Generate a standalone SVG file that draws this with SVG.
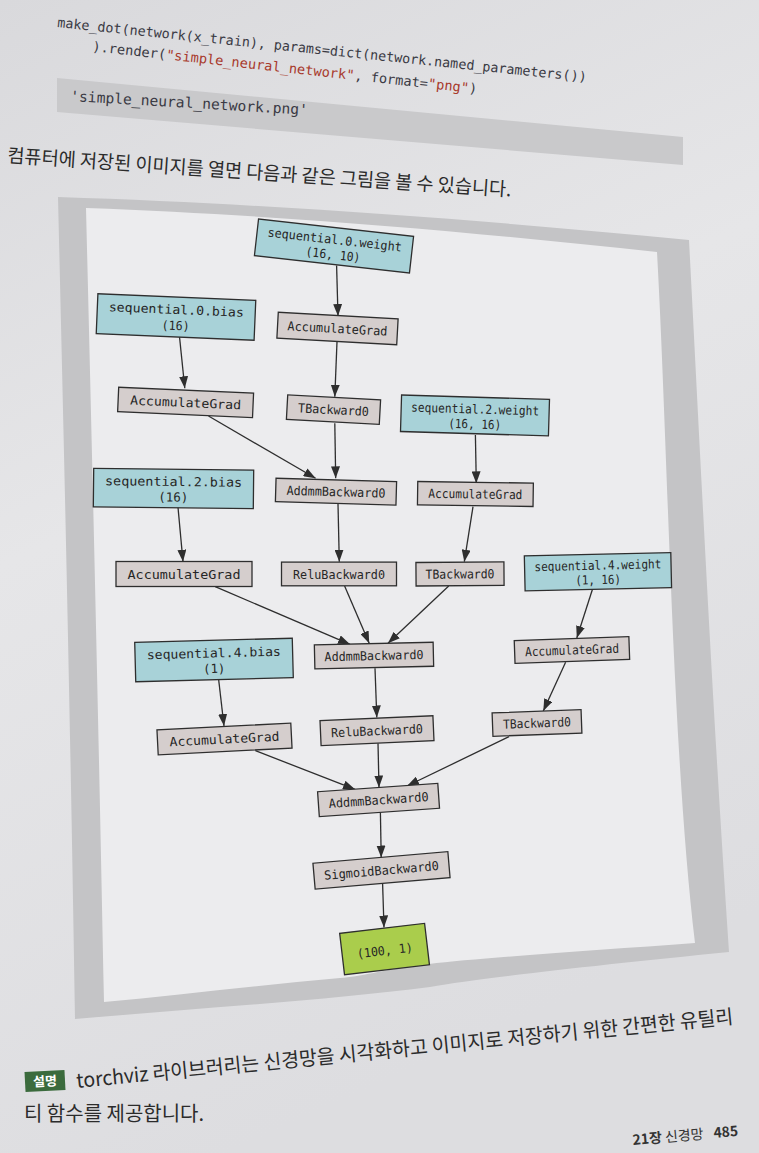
<svg xmlns="http://www.w3.org/2000/svg" width="759" height="1153" viewBox="0 0 759 1153">
<defs>
<linearGradient id="page" x1="0" y1="0" x2="0.3" y2="1">
<stop offset="0" stop-color="#d9d9dc"/>
<stop offset="0.45" stop-color="#e6e6e8"/>
<stop offset="1" stop-color="#dddde0"/>
</linearGradient>
<marker id="arr" markerUnits="userSpaceOnUse" markerWidth="12" markerHeight="9" refX="12" refY="4.5" orient="auto">
<path d="M0,0 L12,4.5 L0,9 Z" fill="#2e2e2e"/>
</marker>
<style>
.code{font-family:"DejaVu Sans Mono","Liberation Mono",monospace;font-size:13.5px;fill:#3a3a44}
.str{fill:#a8392c}
.kr{font-family:"Noto Sans CJK KR","Noto Sans",sans-serif;fill:#2b2b2b}
.box rect{stroke:#2e2e2e;stroke-width:1.3}
.param rect{fill:#a8d2d8}
.op rect{fill:#d5cecd}
.outn rect{fill:#aacd4c}
.box text{font-family:"DejaVu Sans Mono","Liberation Mono",monospace;font-size:12.5px;fill:#262626;text-anchor:middle}
.edges line{stroke:#2e2e2e;stroke-width:1.3;marker-end:url(#arr)}
</style>
</defs>
<rect width="759" height="1153" fill="url(#page)"/>

<!-- code block -->
<g id="code">
<polygon points="57,78 683,137 683,165 57,112" fill="#c9c9cb"/>
<text class="code" x="57" y="27" transform="rotate(5.9 57 27)" textLength="532" lengthAdjust="spacingAndGlyphs">make_dot(network(x_train), params=dict(network.named_parameters())</text>
<text class="code" x="92" y="51" transform="rotate(6.3 92 51)" textLength="387" lengthAdjust="spacingAndGlyphs">).render(<tspan class="str">"simple_neural_network"</tspan>, format=<tspan class="str">"png"</tspan>)</text>
<text class="code" x="70" y="101" transform="rotate(3.3 70 101)" style="font-size:14.5px" textLength="238" lengthAdjust="spacingAndGlyphs">'simple_neural_network.png'</text>
</g>
<text class="kr" x="7" y="162" transform="rotate(3.9 7 162)" style="font-size:19px" textLength="505" lengthAdjust="spacingAndGlyphs">컴퓨터에 저장된 이미지를 열면 다음과 같은 그림을 볼 수 있습니다.</text>

<!-- figure frame -->
<g id="frame">
<path d="M58,197 C300,205 500,222 689,240 C700,450 712,700 729,952 C600,965 480,978 430,987 C330,1000 200,1008 75,1019 C70,700 64,450 58,197 Z" fill="#c4c4c6"/>
<path d="M86,208 C300,216 480,233 657,252 C668,450 672,750 695,943 C600,950 480,958 429,964 C380,970 360,977 340,978 C260,985 180,995 104,1002 C98,700 92,450 86,208 Z" fill="#ececee"/>
</g>

<g class="edges" id="edges">
<line x1="336.6" y1="265.5" x2="338" y2="316"/>
<line x1="179.5" y1="336.7" x2="184.8" y2="388.3"/>
<line x1="337" y1="341.7" x2="334.8" y2="396.7"/>
<line x1="208.5" y1="416" x2="315.6" y2="478.3"/>
<line x1="334.8" y1="423.3" x2="335.7" y2="478.3"/>
<line x1="475.4" y1="435" x2="476.3" y2="483.3"/>
<line x1="178" y1="507.3" x2="183" y2="561.7"/>
<line x1="338" y1="504" x2="339.3" y2="561.7"/>
<line x1="473" y1="506.7" x2="464.3" y2="561.7"/>
<line x1="215.2" y1="586.7" x2="350" y2="644.3"/>
<line x1="344.6" y1="586" x2="369.2" y2="643.3"/>
<line x1="448.7" y1="586" x2="388" y2="643.3"/>
<line x1="592.4" y1="589.5" x2="576.8" y2="638"/>
<line x1="218.7" y1="680" x2="224" y2="726"/>
<line x1="375" y1="668.3" x2="376.8" y2="717.5"/>
<line x1="565.6" y1="662.3" x2="543.3" y2="711"/>
<line x1="255.4" y1="750.7" x2="355" y2="789.3"/>
<line x1="378" y1="743.3" x2="379" y2="787.5"/>
<line x1="509" y1="736.7" x2="407" y2="786"/>
<line x1="380.4" y1="812.5" x2="381.2" y2="857.5"/>
<line x1="382.6" y1="883.5" x2="384" y2="927.5"/>
</g>

<g id="n_s0w" class="box param" transform="translate(334,246) rotate(6.4)"><rect x="-78" y="-18.5" width="156" height="37"/><text y="-2" textLength="135" lengthAdjust="spacingAndGlyphs">sequential.0.weight</text><text y="13" textLength="55" lengthAdjust="spacingAndGlyphs">(16, 10)</text></g>
<g id="n_s0b" class="box param" transform="translate(176,317) rotate(2.4)"><rect x="-79" y="-20" width="158" height="40"/><text y="-3" textLength="135" lengthAdjust="spacingAndGlyphs">sequential.0.bias</text><text y="13" textLength="28" lengthAdjust="spacingAndGlyphs">(16)</text></g>
<g id="n_ag1" class="box op" transform="translate(337.5,328.5) rotate(3.1)"><rect x="-60" y="-13" width="120" height="26"/><text y="4.5" textLength="100" lengthAdjust="spacingAndGlyphs">AccumulateGrad</text></g>
<g id="n_ag2" class="box op" transform="translate(185.6,402.5) rotate(2.5)"><rect x="-67.5" y="-12.3" width="135" height="24.5"/><text y="4.5" textLength="111" lengthAdjust="spacingAndGlyphs">AccumulateGrad</text></g>
<g id="n_tb1" class="box op" transform="translate(333.5,409.7) rotate(3.1)"><rect x="-46.5" y="-12.3" width="93" height="24.5"/><text y="4.5" textLength="71" lengthAdjust="spacingAndGlyphs">TBackward0</text></g>
<g id="n_s2w" class="box param" transform="translate(475,415.5) rotate(1.7)"><rect x="-74" y="-18.3" width="148" height="36.5"/><text y="-2" textLength="128" lengthAdjust="spacingAndGlyphs">sequential.2.weight</text><text y="13" textLength="53" lengthAdjust="spacingAndGlyphs">(16, 16)</text></g>
<g id="n_s2b" class="box param" transform="translate(173.5,488.5) rotate(0.6)"><rect x="-80" y="-19.3" width="160" height="38.5"/><text y="-2.5" textLength="137" lengthAdjust="spacingAndGlyphs">sequential.2.bias</text><text y="13" textLength="30" lengthAdjust="spacingAndGlyphs">(16)</text></g>
<g id="n_ad1" class="box op" transform="translate(336,491.7) rotate(1.6)"><rect x="-60.3" y="-11.8" width="120.6" height="23.5"/><text y="4.5" textLength="99" lengthAdjust="spacingAndGlyphs">AddmmBackward0</text></g>
<g id="n_ag3" class="box op" transform="translate(475.4,494) rotate(0.8)"><rect x="-57.8" y="-11.7" width="115.6" height="23.4"/><text y="4.5" textLength="94" lengthAdjust="spacingAndGlyphs">AccumulateGrad</text></g>
<g id="n_ag4" class="box op" transform="translate(184,574)"><rect x="-68" y="-12.5" width="136" height="25"/><text y="4.5" textLength="113" lengthAdjust="spacingAndGlyphs">AccumulateGrad</text></g>
<g id="n_re1" class="box op" transform="translate(339,574)"><rect x="-57.5" y="-11.9" width="115" height="23.7"/><text y="4.5" textLength="92" lengthAdjust="spacingAndGlyphs">ReluBackward0</text></g>
<g id="n_tb2" class="box op" transform="translate(460,574) rotate(-0.4)"><rect x="-44" y="-11.8" width="88" height="23.5"/><text y="4.5" textLength="69" lengthAdjust="spacingAndGlyphs">TBackward0</text></g>
<g id="n_s4w" class="box param" transform="translate(598,571.7) rotate(-1.3)"><rect x="-73.3" y="-17.5" width="146.5" height="35"/><text y="-2" textLength="127" lengthAdjust="spacingAndGlyphs">sequential.4.weight</text><text y="12.5" textLength="45.5" lengthAdjust="spacingAndGlyphs">(1, 16)</text></g>
<g id="n_s4b" class="box param" transform="translate(214,660) rotate(-1.5)"><rect x="-78.8" y="-19.7" width="157.6" height="39.4"/><text y="-2.5" textLength="134" lengthAdjust="spacingAndGlyphs">sequential.4.bias</text><text y="13" textLength="22" lengthAdjust="spacingAndGlyphs">(1)</text></g>
<g id="n_ad2" class="box op" transform="translate(374,655.6) rotate(-1.3)"><rect x="-59.4" y="-12" width="118.8" height="24"/><text y="4.5" textLength="99" lengthAdjust="spacingAndGlyphs">AddmmBackward0</text></g>
<g id="n_ag5" class="box op" transform="translate(572,650) rotate(-2)"><rect x="-57.4" y="-11.4" width="114.7" height="22.8"/><text y="4.5" textLength="94" lengthAdjust="spacingAndGlyphs">AccumulateGrad</text></g>
<g id="n_ag6" class="box op" transform="translate(224.5,739) rotate(-2.9)"><rect x="-67" y="-12.5" width="134" height="25"/><text y="4.5" textLength="110" lengthAdjust="spacingAndGlyphs">AccumulateGrad</text></g>
<g id="n_re2" class="box op" transform="translate(377,730.7) rotate(-2.5)"><rect x="-56.5" y="-12.5" width="113" height="25"/><text y="4.5" textLength="92" lengthAdjust="spacingAndGlyphs">ReluBackward0</text></g>
<g id="n_tb3" class="box op" transform="translate(537,723) rotate(-2.1)"><rect x="-44.5" y="-11.7" width="89" height="23.4"/><text y="4.5" textLength="68" lengthAdjust="spacingAndGlyphs">TBackward0</text></g>
<g id="n_ad3" class="box op" transform="translate(378.6,800) rotate(-4)"><rect x="-60.3" y="-12.5" width="120.5" height="25"/><text y="4.5" textLength="100" lengthAdjust="spacingAndGlyphs">AddmmBackward0</text></g>
<g id="n_sig" class="box op" transform="translate(381.5,870.4) rotate(-4.9)"><rect x="-67.7" y="-13" width="135.4" height="26"/><text y="4.5" textLength="115" lengthAdjust="spacingAndGlyphs">SigmoidBackward0</text></g>
<g id="n_out" class="box outn" transform="translate(384.6,949) rotate(-6.7)"><rect x="-42.8" y="-20.8" width="85.5" height="41.7"/><text y="6" textLength="56" lengthAdjust="spacingAndGlyphs">(100, 1)</text></g>

<!-- caption -->
<g id="caption">
<g transform="rotate(-3 45 1081)"><rect x="25" y="1071" width="40" height="20" fill="#3b6b3d"/><text x="45" y="1086" text-anchor="middle" style="font-family:'Noto Sans CJK KR',sans-serif;font-size:13px;font-weight:bold;fill:#ffffff">설명</text></g>
<text class="kr" x="77" y="1088" transform="rotate(-5.6 77 1088)" style="font-size:20px" textLength="660" lengthAdjust="spacingAndGlyphs">torchviz 라이브러리는 신경망을 시각화하고 이미지로 저장하기 위한 간편한 유틸리</text>
<text class="kr" x="24" y="1121" style="font-size:20px" textLength="180" lengthAdjust="spacingAndGlyphs">티 함수를 제공합니다.</text>
</g>
<g id="footer" transform="rotate(-5 633 1145)">
<text x="633" y="1145" style="font-family:'Noto Sans CJK KR',sans-serif;font-size:14px;fill:#333"><tspan font-weight="bold">21장</tspan> 신경망<tspan dx="10" font-weight="bold">485</tspan></text>
</g>
</svg>
